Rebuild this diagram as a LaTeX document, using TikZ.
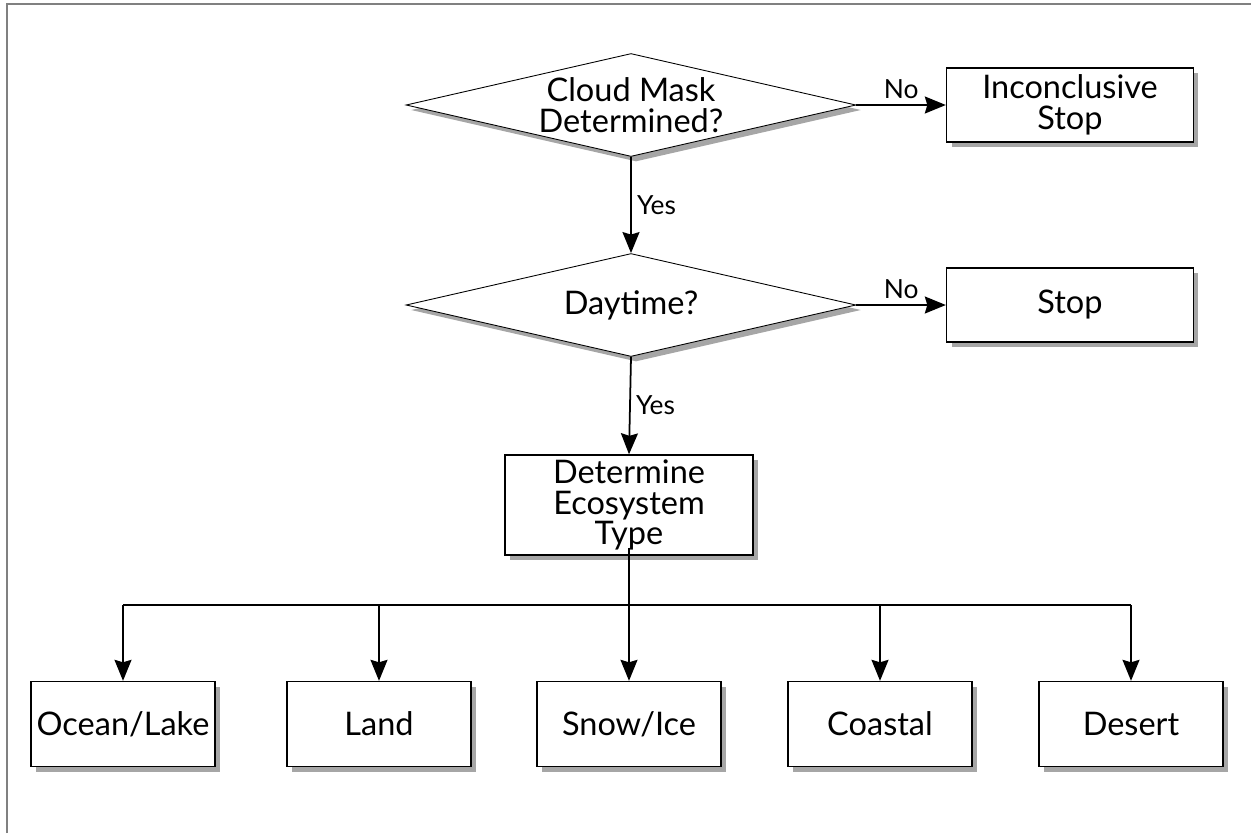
\documentclass[tikz,border=0pt]{standalone}
\usepackage{fontspec}
\setmainfont{Lato}
\usetikzlibrary{shapes.geometric,arrows.meta,shadows}

\tikzset{
    box/.style={draw=black, line width=0.8pt, fill=white, align=center, inner sep=0pt,
        drop shadow={shadow xshift=0.1cm, shadow yshift=-0.1cm, fill=gray!70, opacity=1},
        font=\fontsize{18.5}{17.5}\selectfont},
    decide/.style={diamond, draw=black, line width=0.5pt, fill=white, aspect=4.37,
        minimum width=9cm, minimum height=2.06cm, inner sep=0pt, align=center,
        drop shadow={shadow xshift=0.1cm, shadow yshift=-0.1cm, fill=gray!70, opacity=1},
        font=\fontsize{18.5}{17.5}\selectfont},
    arr/.style={line width=1pt, -{Stealth[length=0.42cm, width=0.34cm, inset=0.05cm]}},
    lbl/.style={font=\fontsize{15}{15}\selectfont, inner sep=3pt}
}

\begin{document}
\begin{tikzpicture}[x=0.02cm, y=-0.02cm]

    \useasboundingbox (0,0) rectangle (1251,833);

    % Frame round the picture (top and left only)
    \draw[gray, line width=1.1pt] (7,833) -- (7,4) -- (1251,4);

    % Decisions
    \node[decide] (cloud) at (631,105) {Cloud Mask\\Determined?};
    \node[decide] (day) at (631,305) {Daytime?};

    % Stop boxes on the right
    \node[box, minimum width=4.94cm, minimum height=1.48cm] (inc) at (1070,105) {Inconclusive\\Stop};
    \node[box, minimum width=4.94cm, minimum height=1.48cm] (stop) at (1070,305) {Stop};

    % Ecosystem box
    \node[box, minimum width=4.96cm, minimum height=2cm] (eco) at (629,505) {Determine\\Ecosystem\\Type};

    % Ecosystem types
    \node[box, minimum width=3.68cm, minimum height=1.7cm] (ocean) at (123,724) {Ocean/Lake};
    \node[box, minimum width=3.68cm, minimum height=1.7cm] (land) at (379,724) {Land};
    \node[box, minimum width=3.68cm, minimum height=1.7cm] (snow) at (629,724) {Snow/Ice};
    \node[box, minimum width=3.68cm, minimum height=1.7cm] (coast) at (880,724) {Coastal};
    \node[box, minimum width=3.68cm, minimum height=1.7cm] (desert) at (1131,724) {Desert};

    \coordinate (bus) at (629,605);

    % Yes / No arrows
    \draw[arr] (cloud.east) -- node[lbl, above] {No} (inc.west);
    \draw[arr] (day.east) -- node[lbl, above] {No} (stop.west);
    \draw[arr] (cloud.south) -- node[lbl, right] {Yes} (day.north);
    \draw[arr] (day.south) -- node[lbl, right] {Yes} (eco.north);

    % Branch to the five types
    \draw[line width=1pt] (ocean.north |- bus) -- (desert.north |- bus);
    \draw[arr] ([yshift=0.16cm]eco.south) -- (snow.north);
    \foreach \t in {ocean, land, coast, desert}
        \draw[arr] (\t.north |- bus) -- (\t.north);

\end{tikzpicture}
\end{document}
